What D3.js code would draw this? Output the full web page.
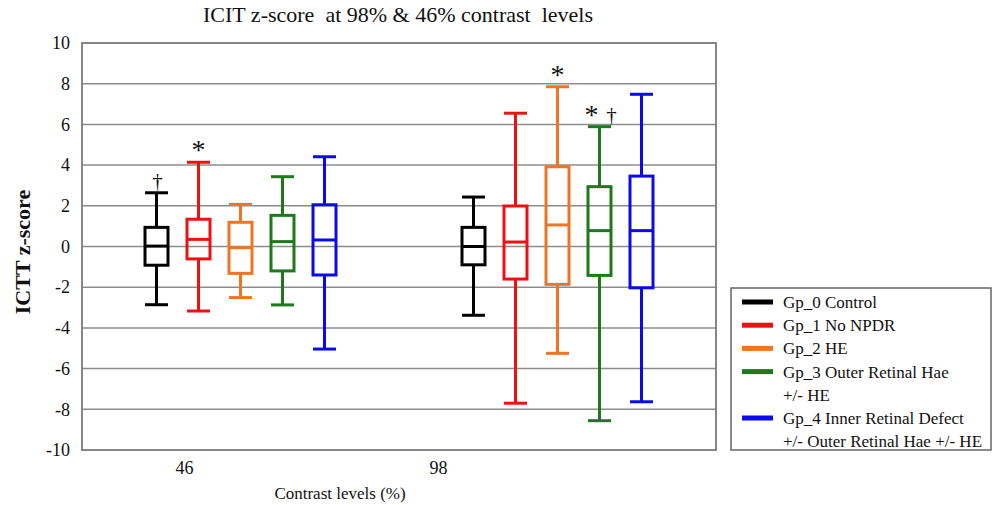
<!DOCTYPE html>
<html><head><meta charset="utf-8">
<script src="https://cdn.jsdelivr.net/npm/d3@7"></script>
<style>body{margin:0;background:#fff}svg{display:block}text{font-family:"Liberation Serif","Times New Roman",serif;fill:#111;white-space:pre}</style>
</head><body><svg id="c" width="993" height="505"></svg>
<script>
const categories = ["46", "98"];
const groups = ["Gp_0 Control", "Gp_1 No NPDR", "Gp_2 HE", "Gp_3 Outer Retinal Hae +/- HE", "Gp_4 Inner Retinal Defect +/- Outer Retinal Hae +/- HE"];
const legendLines = [["Gp_0 Control"], ["Gp_1 No NPDR"], ["Gp_2 HE"], ["Gp_3 Outer Retinal Hae", "+/- HE"], ["Gp_4 Inner Retinal Defect", "+/- Outer Retinal Hae +/- HE"]];
const colors = ["#000000", "#ee1111", "#f07522", "#1c7a1c", "#0a0aee"];
// [whiskerLow, Q1, median, Q3, whiskerHigh] per group, per category
const stats46 = [
  [-2.86, -0.92, 0.02, 0.94, 2.64],
  [-3.17, -0.61, 0.35, 1.34, 4.14],
  [-2.51, -1.32, -0.06, 1.19, 2.07],
  [-2.87, -1.20, 0.24, 1.53, 3.43],
  [-5.04, -1.40, 0.32, 2.05, 4.41]
];
const stats98 = [
  [-3.38, -0.90, 0.00, 0.94, 2.43],
  [-7.70, -1.60, 0.22, 1.99, 6.55],
  [-5.25, -1.86, 1.06, 3.92, 7.85],
  [-8.56, -1.42, 0.78, 2.94, 5.89],
  [-7.63, -2.03, 0.78, 3.46, 7.48]
];
const yTicks = [-10, -8, -6, -4, -2, 0, 2, 4, 6, 8, 10];
// significance markers: category, group index, symbol
const markers = [
  {cat: "46", g: 0, sym: "†"},
  {cat: "46", g: 1, sym: "*"},
  {cat: "98", g: 2, sym: "*"},
  {cat: "98", g: 3, sym: "*"},
  {cat: "98", g: 3, sym: "†"}
];

const statsByCat = {"46": stats46, "98": stats98};
const svg = d3.select("#c");
const L = 82, R = 716, T = 43, B = 450;
const y = d3.scaleLinear().domain([-10, 10]).range([B, T]);
const x = d3.scaleBand().domain(categories).range([L, R]);
const xg = d3.scaleBand().domain(d3.range(groups.length)).range([-105, 105]);
const xLab = d3.scalePoint().domain(categories).range([184, 438]);
const serif = "Liberation Serif";

// title
svg.append("text").attr("x", 398).attr("y", 22).attr("text-anchor", "middle")
  .style("font-size", "22px").text("ICIT z-score  at 98% & 46% contrast  levels");

// gridlines
svg.append("g").selectAll("line").data(yTicks.slice(1, -1)).join("line")
  .attr("x1", L).attr("x2", R).attr("y1", d => y(d)).attr("y2", d => y(d))
  .attr("stroke", "#8c8c8c").attr("stroke-width", 1.5);
svg.append("rect").attr("x", L).attr("y", T).attr("width", R - L).attr("height", B - T)
  .attr("fill", "none").attr("stroke", "#7a7a7a").attr("stroke-width", 1.8);

// y axis labels
const ya = svg.append("g").attr("transform", `translate(${L},0)`)
  .call(d3.axisLeft(y).tickValues(yTicks).tickSize(0).tickPadding(12).tickFormat(d => String(d)));
ya.attr("font-family", serif).attr("font-size", 18);
ya.select(".domain").remove();
ya.selectAll("text").attr("fill", "#111");
svg.append("text").attr("transform", "translate(30,252) rotate(-90)").attr("text-anchor", "middle")
  .style("font-size", "22px").style("font-weight", "bold").text("ICTT z-score");

// x axis labels
const xa = svg.append("g").attr("transform", `translate(0,${B})`)
  .call(d3.axisBottom(xLab).tickSize(0).tickPadding(11));
xa.attr("font-family", serif).attr("font-size", 18);
xa.select(".domain").remove();
xa.selectAll("text").attr("fill", "#111");
svg.append("text").attr("x", 340).attr("y", 499).attr("text-anchor", "middle")
  .style("font-size", "17px").text("Contrast levels (%)");

// boxes
const bw = 23;
categories.forEach(cat => {
  statsByCat[cat].forEach((s, i) => {
    const cx = x(cat) + x.bandwidth() / 2 + xg(i) + xg.bandwidth() / 2;
    const g = svg.append("g").attr("stroke", colors[i]).attr("stroke-width", 3).attr("fill", "none");
    g.append("line").attr("x1", cx).attr("x2", cx).attr("y1", y(s[4])).attr("y2", y(s[3]));
    g.append("line").attr("x1", cx).attr("x2", cx).attr("y1", y(s[1])).attr("y2", y(s[0]));
    g.append("line").attr("x1", cx - bw / 2).attr("x2", cx + bw / 2).attr("y1", y(s[4])).attr("y2", y(s[4]));
    g.append("line").attr("x1", cx - bw / 2).attr("x2", cx + bw / 2).attr("y1", y(s[0])).attr("y2", y(s[0]));
    g.append("rect").attr("x", cx - bw / 2).attr("y", y(s[3])).attr("width", bw).attr("height", y(s[1]) - y(s[3]));
    g.append("line").attr("x1", cx - bw / 2).attr("x2", cx + bw / 2).attr("y1", y(s[2])).attr("y2", y(s[2]));
  });
});

// markers
markers.forEach(m => {
  const s = statsByCat[m.cat][m.g];
  let cx = x(m.cat) + x.bandwidth() / 2 + xg(m.g) + xg.bandwidth() / 2;
  const top = y(s[4]);
  const both = markers.filter(o => o.cat === m.cat && o.g === m.g).length > 1;
  if (m.sym === "*") {
    if (both) cx -= 8;
    svg.append("text").attr("x", cx).attr("y", top - 3).attr("text-anchor", "middle")
      .style("font-size", "28px").attr("fill", "#333").text("*");
  } else {
    if (both) cx += 11;
    svg.append("text").attr("x", cx + 1).attr("y", top - 5).attr("text-anchor", "middle")
      .style("font-size", "21px").attr("fill", "#666").text("†");
  }
});

// legend
const lg = svg.append("g");
lg.append("rect").attr("x", 731).attr("y", 288).attr("width", 260).attr("height", 162)
  .attr("fill", "#fff").attr("stroke", "#666").attr("stroke-width", 1.5);
let row = 0;
legendLines.forEach((lines, i) => {
  const ry = 302 + row * 23.2;
  lg.append("line").attr("x1", 742).attr("x2", 773).attr("y1", ry).attr("y2", ry)
    .attr("stroke", colors[i]).attr("stroke-width", 5);
  lines.forEach((t, k) => {
    lg.append("text").attr("x", 783).attr("y", ry + k * 23.2 + 6).style("font-size", "17px").text(t);
  });
  row += lines.length;
});
</script></body></html>
